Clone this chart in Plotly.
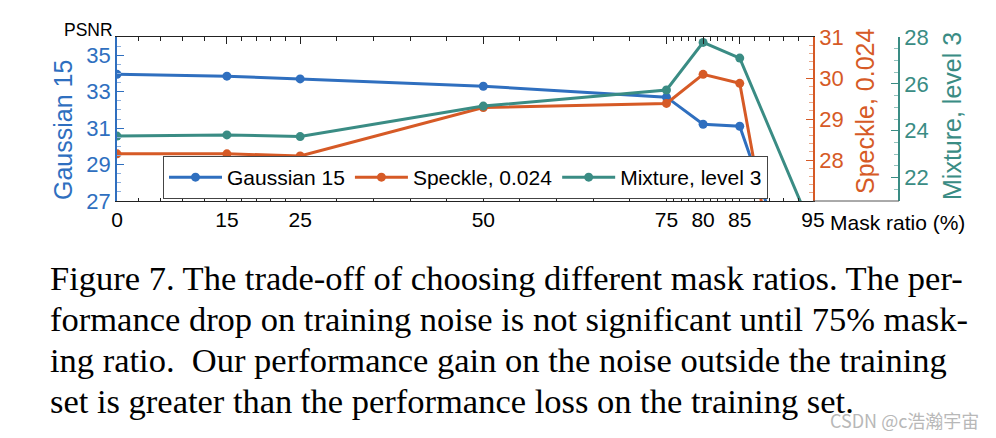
import plotly.graph_objects as go

# ---------------- data ----------------
mask_ratio = [0, 15, 25, 50, 75, 80, 85, 95]
gaussian15 = [33.95, 33.85, 33.70, 33.30, 32.70, 31.21, 31.10, 19.5]
speckle024 = [28.15, 28.15, 28.10, 29.28, 29.38, 30.09, 29.87, 20.1]
mixture3 = [23.77, 23.82, 23.75, 25.05, 25.74, 27.77, 27.10, 19.7]

x_ticks = [0, 15, 25, 50, 75, 80, 85, 95]
y1_ticks = [27, 29, 31, 33, 35]
y2_ticks = [28, 29, 30, 31]
y3_ticks = [22, 24, 26, 28]

caption_lines = [
    "Figure 7. The trade-off of choosing different mask ratios. The per-",
    "formance drop on training noise is not significant until 75% mask-",
    "ing ratio.\u00a0 Our performance gain on the noise outside the training",
    "set is greater than the performance loss on the training set.",
]

# ---------------- style ----------------
W, H = 996, 438
BLUE = "#2F6FBF"
ORANGE = "#D65A26"
TEAL = "#3A8C84"
SANS = "Liberation Sans, Arial, Helvetica, sans-serif"
SERIF = "Liberation Serif, Times New Roman, serif"


def px(x):
    return x / W


def py(y):
    return 1 - y / H


L, R, T, B = 117, 813, 37, 201
AX3 = 899


def minor_between(ticks, n=5):
    out = []
    for a, b in zip(ticks[:-1], ticks[1:]):
        step = (b - a) / n
        out += [a + step * k for k in range(1, n)]
    return out


def frange(a, b, s):
    out = []
    v = a
    while v <= b + 1e-9:
        out.append(round(v, 6))
        v += s
    return out


fig = go.Figure()
fig.add_trace(go.Scatter(x=mask_ratio, y=gaussian15, name="Gaussian 15", mode="lines+markers",
                         line=dict(color=BLUE, width=3), marker=dict(size=9, color=BLUE), yaxis="y"))
fig.add_trace(go.Scatter(x=mask_ratio, y=speckle024, name="Speckle, 0.024", mode="lines+markers",
                         line=dict(color=ORANGE, width=3), marker=dict(size=9, color=ORANGE), yaxis="y2"))
fig.add_trace(go.Scatter(x=mask_ratio, y=mixture3, name="Mixture, level 3", mode="lines+markers",
                         line=dict(color=TEAL, width=3), marker=dict(size=9, color=TEAL), yaxis="y3"))

ydom = [py(B), py(T)]

fig.update_layout(
    width=W, height=H,
    margin=dict(l=0, r=0, t=0, b=0, autoexpand=False),
    paper_bgcolor="white", plot_bgcolor="white",
    font=dict(family=SANS, color="black"),
    xaxis=dict(
        domain=[px(L), px(R)], range=[0, 95],
        tickmode="array", tickvals=x_ticks, ticktext=[str(v) for v in x_ticks],
        ticks="inside", ticklen=7, tickwidth=1, tickcolor="#222",
        showline=True, linecolor="#222", linewidth=1, mirror="ticks",
        showgrid=False, zeroline=False,
        tickfont=dict(size=21, color="black", family=SANS),
        minor=dict(tickmode="array", tickvals=minor_between(x_ticks), ticklen=3.5,
                   tickcolor="#222", ticks="inside", showgrid=False),
    ),
    yaxis=dict(
        domain=ydom, range=[27, 36],
        tickmode="array", tickvals=y1_ticks,
        ticks="inside", ticklen=7, tickcolor=BLUE,
        showline=True, linecolor=BLUE, linewidth=1.5, mirror=False,
        showgrid=False, zeroline=False,
        tickfont=dict(size=22, color=BLUE, family=SANS),
        minor=dict(tickmode="array", tickvals=frange(27, 36, 0.5), ticklen=4,
                   tickcolor="#8FB0DD", ticks="inside", showgrid=False),
    ),
    yaxis2=dict(
        domain=ydom, range=[27, 31], overlaying="y", side="right", anchor="x",
        tickmode="array", tickvals=y2_ticks,
        ticks="inside", ticklen=7, tickcolor=ORANGE,
        showline=True, linecolor=ORANGE, linewidth=1.5,
        showgrid=False, zeroline=False,
        tickfont=dict(size=22, color=ORANGE, family=SANS),
        minor=dict(tickmode="array", tickvals=frange(27, 31, 0.2), ticklen=4,
                   tickcolor="#E9A98C", ticks="inside", showgrid=False),
    ),
    yaxis3=dict(
        domain=ydom, range=[21, 28], overlaying="y", side="right", anchor="free",
        position=px(AX3),
        tickmode="array", tickvals=y3_ticks,
        ticks="inside", ticklen=7, tickcolor=TEAL,
        showline=True, linecolor=TEAL, linewidth=1.5,
        showgrid=False, zeroline=False,
        tickfont=dict(size=22, color=TEAL, family=SANS),
        minor=dict(tickmode="array", tickvals=frange(21, 28, 0.5), ticklen=4,
                   tickcolor="#93C2BD", ticks="inside", showgrid=False),
    ),
    legend=dict(
        orientation="h", x=px(163), y=py(156), xanchor="left", yanchor="top",
        bgcolor="white", bordercolor="#444", borderwidth=1,
        font=dict(size=21, family=SANS, color="black"),
        itemwidth=53, tracegroupgap=0,
    ),
    showlegend=True,
)

# bottom spine extension between the two right axes
fig.add_shape(type="line", xref="paper", yref="paper", x0=px(R), x1=px(AX3), y0=py(B), y1=py(B),
              line=dict(color="#555", width=1))

ann = []
ann.append(dict(text="PSNR", x=px(88), y=py(30), xref="paper", yref="paper", showarrow=False,
                font=dict(size=17.5, color="black", family=SANS), xanchor="center", yanchor="middle"))
ann.append(dict(text="Gaussian 15", x=px(63), y=py(130), xref="paper", yref="paper", showarrow=False,
                textangle=-90, font=dict(size=25, color=BLUE, family=SANS), xanchor="center", yanchor="middle"))
ann.append(dict(text="Speckle, 0.024", x=px(865), y=py(112), xref="paper", yref="paper", showarrow=False,
                textangle=-90, font=dict(size=25, color=ORANGE, family=SANS), xanchor="center", yanchor="middle"))
ann.append(dict(text="Mixture, level 3", x=px(952), y=py(116), xref="paper", yref="paper", showarrow=False,
                textangle=-90, font=dict(size=25, color=TEAL, family=SANS), xanchor="center", yanchor="middle"))
ann.append(dict(text="Mask ratio (%)", x=px(828), y=py(222), xref="paper", yref="paper", showarrow=False,
                font=dict(size=21, color="black", family=SANS), xanchor="left", yanchor="middle"))

cap_y = [278, 319, 360, 401]
for line, yy in zip(caption_lines, cap_y):
    ann.append(dict(text=line, x=px(48), y=py(yy), xref="paper", yref="paper", showarrow=False,
                    font=dict(size=34.5, color="black", family=SERIF), xanchor="left", yanchor="middle"))

ann.append(dict(text="CSDN @c浩瀚宇宙", x=px(981), y=py(420), xref="paper", yref="paper", showarrow=False,
                font=dict(size=18, color="#B8B8B8", family="Noto Sans CJK SC, Noto Sans, sans-serif"),
                xanchor="right", yanchor="middle"))

fig.update_layout(annotations=ann)
fig.write_html(
    "out.html",
    config={"displayModeBar": False},
    post_script="document.body.style.margin='0px';document.body.style.overflow='hidden';",
)
